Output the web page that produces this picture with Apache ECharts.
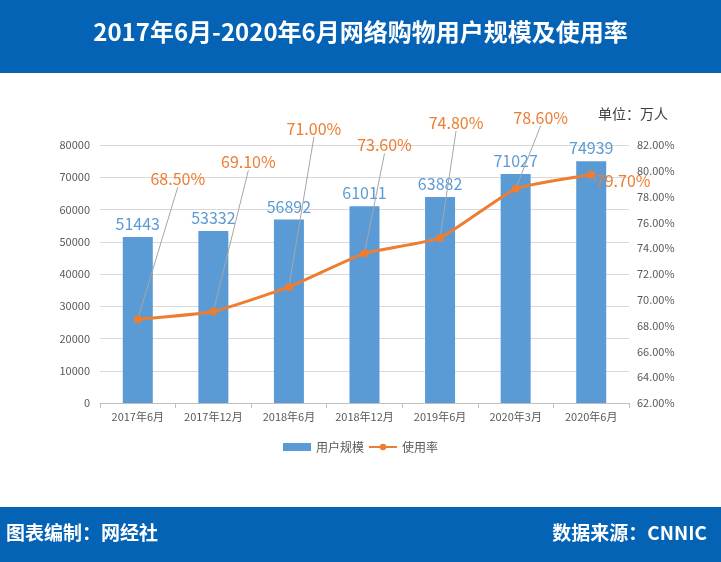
<!DOCTYPE html>
<html><head><meta charset="utf-8">
<script src="https://cdn.jsdelivr.net/npm/echarts@6/dist/echarts.min.js"></script>
<style>html,body{margin:0;padding:0;background:#fff}#c{width:721px;height:562px}</style>
</head><body><div id="c"></div>
<script>
const categories = ['2017年6月','2017年12月','2018年6月','2018年12月','2019年6月','2020年3月','2020年6月'];
const users = [51443, 53332, 56892, 61011, 63882, 71027, 74939];
const rate = [68.5, 69.1, 71.0, 73.6, 74.8, 78.6, 79.7];
const leftTicks = {min: 0, max: 80000, interval: 10000};
const rightTicks = {min: 62, max: 82, interval: 2};

const labelShift = [[40,-123],[35,-132],[25,-141],[20,-91],[16,-98],[25,-54],[32,23]];
const chart = echarts.init(document.getElementById('c'));
const font = '"Microsoft YaHei","Noto Sans CJK SC",sans-serif';
chart.setOption({
  animation: false,
  textStyle: {fontFamily: font},
  graphic: [
    {type:'rect', shape:{x:0,y:0,width:721,height:73}, style:{fill:'#0563b5'}},
    {type:'text', left:'center', top:20, style:{text:'2017年6月-2020年6月网络购物用户规模及使用率', fill:'#fff', font:'bold 24px "Noto Sans CJK SC"'}},
    {type:'rect', shape:{x:0,y:507,width:721,height:55}, style:{fill:'#0563b5'}},
    {type:'text', left:6, top:523, style:{text:'图表编制：网经社', fill:'#fff', font:'bold 19px "Noto Sans CJK SC"'}},
    {type:'text', right:14, top:523, style:{text:'数据来源：CNNIC', fill:'#fff', font:'bold 19px "Noto Sans CJK SC"'}},
    {type:'text', left:598, top:107, style:{text:'单位：万人', fill:'#404040', font:'14px "Noto Sans CJK SC"'}}
  ],
  grid: {left: 100, right: 92, top: 145, bottom: 159},
  legend: {
    bottom: 104, left: 'center', itemGap: 4, itemWidth: 28, itemHeight: 8,
    textStyle: {color: '#595959', fontSize: 12},
    data: [{name:'用户规模', icon:'rect'}, {name:'使用率'}]
  },
  xAxis: {
    type: 'category', data: categories,
    axisLine: {lineStyle: {color: '#bfbfbf'}},
    axisTick: {show: true, lineStyle: {color: '#bfbfbf'}},
    axisLabel: {color: '#595959', fontSize: 11, margin: 8, interval: 0}
  },
  yAxis: [
    {type: 'value', min: leftTicks.min, max: leftTicks.max, interval: leftTicks.interval,
     axisLabel: {color: '#595959', fontSize: 11, margin: 10, formatter: v => String(v)},
     splitLine: {lineStyle: {color: '#d9d9d9'}}, axisLine:{show:false}, axisTick:{show:false}},
    {type: 'value', min: rightTicks.min, max: rightTicks.max, interval: rightTicks.interval,
     axisLabel: {color: '#595959', fontSize: 11, margin: 8, formatter: v => v.toFixed(2) + '%'},
     splitLine: {show: false}, axisLine:{show:false}, axisTick:{show:false}}
  ],
  series: [
    {name: '用户规模', type: 'bar', data: users, barWidth: 30, yAxisIndex: 0,
     itemStyle: {color: '#5b9bd5'},
     label: {show: true, position: 'top', distance: 5, color: '#5b9bd5', fontSize: 16}},
    {name: '使用率', type: 'line', data: rate, yAxisIndex: 1, smooth: 0.15,
     symbol: 'circle', symbolSize: 8, lineStyle: {width: 3, color: '#ed7d31'},
     itemStyle: {color: '#ed7d31'}, z: 5,
     label: {show: true, position: 'top', color: '#ed7d31', fontSize: 16, formatter: p => p.value.toFixed(2) + '%'},
     labelLine: {show: true, lineStyle: {color: '#a6a6a6', width: 1}},
     labelLayout: p => ({dx: labelShift[p.dataIndex][0], dy: labelShift[p.dataIndex][1]})}
  ]
});
</script></body></html>
